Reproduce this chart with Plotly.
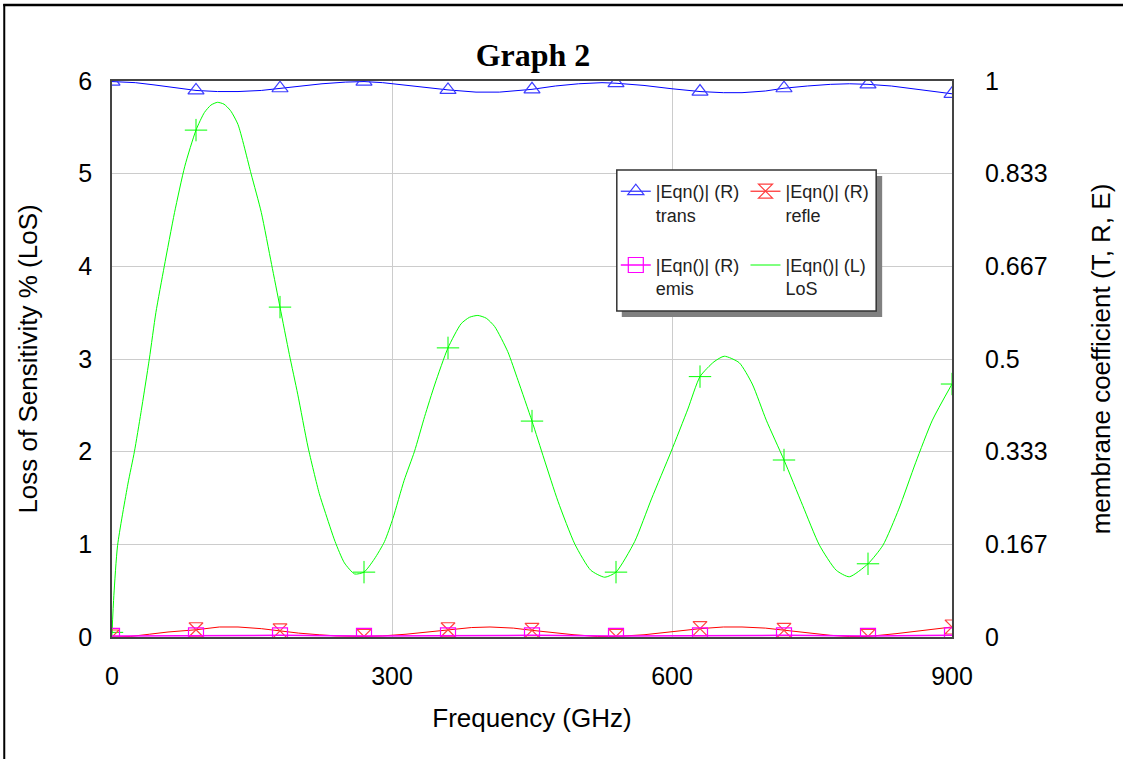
import plotly.graph_objects as go

# ---------------- data ----------------
los_freq = [0, 2, 6, 17, 24, 31, 40, 47, 56, 67, 78, 90, 99, 106, 113, 120, 127, 135,
            149, 160, 171, 180, 190, 199, 210, 222, 228, 239, 249, 260, 270, 281, 292,
            301, 313, 324, 335, 346, 360, 374, 383, 392, 401, 410, 424, 435, 450, 463,
            478, 496, 513, 528, 540, 560, 578, 599, 617, 630, 645, 656, 672, 686, 701,
            720, 740, 758, 776, 790, 810, 826, 843, 861, 879, 900]
los_val = [0.05, 0.45, 0.99, 1.65, 2.0, 2.42, 3.0, 3.5, 4.0, 4.58, 5.08, 5.47, 5.66, 5.74,
           5.77, 5.75, 5.68, 5.53, 5.0, 4.58, 4.02, 3.56, 3.05, 2.62, 2.05, 1.55, 1.36,
           1.03, 0.80, 0.68, 0.70, 0.84, 1.03, 1.28, 1.69, 2.0, 2.38, 2.73, 3.12, 3.38,
           3.45, 3.47, 3.44, 3.35, 3.08, 2.77, 2.33, 1.92, 1.46, 1.0, 0.72, 0.645, 0.70,
           1.03, 1.49, 2.0, 2.46, 2.81, 2.97, 3.03, 2.96, 2.73, 2.34, 1.91, 1.42, 0.99,
           0.72, 0.65, 0.79, 0.99, 1.38, 1.88, 2.34, 2.73]

trans_freq = [0, 25, 45, 65, 90, 113, 135, 160, 180, 205, 225, 250, 270, 290, 310, 330,
              360, 390, 415, 450, 475, 500, 525, 540, 570, 600, 630, 655, 675, 700, 720,
              745, 770, 790, 810, 835, 860, 880, 900]
trans_val = [0.999, 0.997, 0.993, 0.988, 0.983, 0.981, 0.981, 0.983, 0.987, 0.992, 0.995,
             0.998, 0.999, 0.997, 0.993, 0.989, 0.984, 0.980, 0.980, 0.985, 0.991, 0.995,
             0.997, 0.996, 0.992, 0.986, 0.981, 0.979, 0.979, 0.982, 0.987, 0.991, 0.994,
             0.995, 0.994, 0.991, 0.986, 0.981, 0.977]

refle_freq = [0, 20, 40, 60, 90, 115, 135, 160, 180, 200, 222, 240, 270, 290, 315, 340,
              360, 385, 405, 430, 450, 470, 495, 520, 540, 570, 600, 630, 655, 675, 700,
              720, 745, 770, 790, 810, 840, 860, 880, 900]
refle_val = [0.0, 0.001, 0.005, 0.009, 0.013, 0.018, 0.018, 0.015, 0.011, 0.007, 0.004,
             0.002, 0.001, 0.002, 0.005, 0.009, 0.013, 0.017, 0.018, 0.016, 0.012, 0.008,
             0.004, 0.001, 0.001, 0.004, 0.010, 0.015, 0.018, 0.018, 0.016, 0.012, 0.007,
             0.003, 0.001, 0.001, 0.006, 0.010, 0.014, 0.018]

emis_freq = [0, 90, 180, 270, 360, 450, 540, 630, 720, 810, 900]
emis_val = [0.002, 0.003, 0.003, 0.002, 0.003, 0.003, 0.002, 0.003, 0.003, 0.002, 0.003]

x_tickvals = [0, 300, 600, 900]
left_tickvals = [0, 1, 2, 3, 4, 5, 6]
right_tickvals = [0, 1 / 6, 2 / 6, 3 / 6, 4 / 6, 5 / 6, 1]
right_ticktext = ["0", "0.167", "0.333", "0.5", "0.667", "0.833", "1"]

names = {
    "trans": "|Eqn()| (R)<br>trans",
    "refle": "|Eqn()| (R)<br>refle",
    "emis": "|Eqn()| (R)<br>emis",
    "los": "|Eqn()| (L)<br>LoS",
}
marker_step = 90

# ---------------- layout geometry ----------------
W, H = 1123, 759
L, R, T, B = 112, 169, 81, 122
PW, PH = W - L - R, H - T - B


def px(xp):
    return (xp - L) / PW


def py(yp):
    return (H - B - yp) / PH


def mcolors(freqs, c):
    # markers only every 90 GHz (first point is a marker point -> legend uses it)
    return [c if f % marker_step == 0 else "rgba(0,0,0,0)" for f in freqs]


FONT = "Liberation Sans, Arial, sans-serif"
TICK = 25
TITLE = 26
fig = go.Figure()

# LoS (left axis)
fig.add_trace(go.Scatter(
    x=los_freq, y=los_val, mode="lines", name=names["los"],
    line=dict(color="#00ff00", width=1, shape="spline", smoothing=0.6),
    legend="legend2", legendrank=2, legendgroup="los", yaxis="y"))
fig.add_trace(go.Scatter(
    x=[f for f in los_freq if f % marker_step == 0],
    y=[v for f, v in zip(los_freq, los_val) if f % marker_step == 0],
    mode="markers", showlegend=False, yaxis="y",
    marker=dict(symbol="cross-thin", size=16, line=dict(color="#00ff00", width=1))))

# Right-axis series
fig.add_trace(go.Scatter(
    x=trans_freq, y=trans_val, mode="lines+markers", name=names["trans"],
    line=dict(color="#0000ff", width=1),
    marker=dict(symbol="triangle-up-open", size=14,
                color=mcolors(trans_freq, "#3c3cff"), line=dict(width=1.2)),
    legend="legend", legendrank=1, legendgroup="trans", yaxis="y2"))
fig.add_trace(go.Scatter(
    x=refle_freq, y=refle_val, mode="lines+markers", name=names["refle"],
    line=dict(color="#ff0000", width=1),
    marker=dict(symbol="hourglass-open", size=14,
                color=mcolors(refle_freq, "#ff4040"), line=dict(width=1.2)),
    legend="legend2", legendrank=1, legendgroup="refle", yaxis="y2"))
fig.add_trace(go.Scatter(
    x=emis_freq, y=emis_val, mode="lines+markers", name=names["emis"],
    line=dict(color="#ff00ff", width=1.5),
    marker=dict(symbol="square-open", size=15,
                color=mcolors(emis_freq, "#ff00ff"), line=dict(width=1.2)),
    legend="legend", legendrank=2, legendgroup="emis", yaxis="y2"))

leg_common = dict(
    xanchor="left", yanchor="top", bgcolor="rgba(0,0,0,0)", borderwidth=0,
    font=dict(family=FONT, size=18, color="#222222"), tracegroupgap=24,
    valign="top", itemwidth=30)

shapes = [
    # outer frame
    dict(type="line", xref="paper", yref="paper", x0=px(3), x1=px(W + 5),
         y0=py(5), y1=py(5), line=dict(color="black", width=2.5)),
    dict(type="line", xref="paper", yref="paper", x0=px(4), x1=px(4),
         y0=py(4), y1=py(H + 5), line=dict(color="black", width=2)),
    # legend shadow + box
    dict(type="rect", xref="paper", yref="paper", x0=px(623), x1=px(884),
         y0=py(176), y1=py(317), fillcolor="#808080", line=dict(width=0), layer="above"),
    dict(type="rect", xref="paper", yref="paper", x0=px(618), x1=px(878),
         y0=py(170), y1=py(311), fillcolor="white",
         line=dict(color="#333333", width=1.5), layer="above"),
]

fig.update_layout(
    width=W, height=H, autosize=False,
    margin=dict(l=L, r=R, t=T, b=B),
    paper_bgcolor="white", plot_bgcolor="white",
    title=dict(text="<b>Graph 2</b>", x=(L + PW / 2) / W, xanchor="center",
               y=1 - 55 / H, yanchor="middle",
               font=dict(family="Liberation Serif, Times New Roman, serif", size=32, color="black")),
    xaxis=dict(range=[0, 900], tickvals=x_tickvals, showgrid=True, gridcolor="#cccccc",
               gridwidth=1, zeroline=False, showline=True, mirror=True,
               linecolor="#444444", linewidth=1.5, ticks="",
               tickfont=dict(family=FONT, size=TICK, color="black"),
               ticklabelstandoff=16,
               title=dict(text="Frequency (GHz)", standoff=20,
                          font=dict(family=FONT, size=TITLE, color="black"))),
    yaxis=dict(range=[0, 6], tickvals=left_tickvals, showgrid=True, gridcolor="#cccccc",
               gridwidth=1, zeroline=False, showline=True, mirror=True,
               linecolor="#444444", linewidth=1.5, ticks="",
               tickfont=dict(family=FONT, size=TICK, color="black"),
               ticklabelstandoff=13,
               title=dict(text="Loss of Sensitivity % (LoS)", standoff=33,
                          font=dict(family=FONT, size=TITLE, color="black"))),
    yaxis2=dict(range=[0, 1], tickvals=right_tickvals, ticktext=right_ticktext,
                overlaying="y", side="right", showgrid=False, zeroline=False,
                showline=False, ticks="",
                tickfont=dict(family=FONT, size=TICK, color="black"),
                ticklabelstandoff=32,
                title=dict(text="membrane coefficient (T, R, E)", standoff=45,
                           font=dict(family=FONT, size=TITLE, color="black"))),
    legend=dict(x=px(617), y=py(173), **leg_common),
    legend2=dict(x=px(747), y=py(173), **leg_common),
    shapes=shapes,
    showlegend=True,
)

fig.write_html("out.html", config={"displayModeBar": False},
               post_script="document.body.style.margin='0';")
